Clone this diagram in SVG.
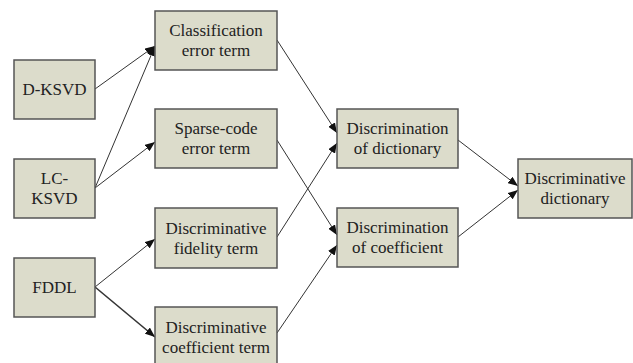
<svg xmlns="http://www.w3.org/2000/svg" width="633" height="363" viewBox="0 0 633 363">
<style>
.box{fill:#dcdccb;stroke:#555;stroke-width:1.5}
.t{font-family:"Liberation Serif","Times New Roman",serif;font-size:17px;fill:#222;text-anchor:middle}
.c{stroke:#333;stroke-width:1;fill:none;marker-end:url(#a)}
</style>
<defs>
<marker id="a" viewBox="0 0 10 8" refX="10" refY="4" markerWidth="10" markerHeight="8" markerUnits="userSpaceOnUse" orient="auto">
<path d="M0,0 L10,4 L0,8 Z" fill="#111"/>
</marker>
</defs>
<rect width="633" height="363" fill="#fff"/>
<g id="connectors">
<line class="c" x1="95" y1="89" x2="155" y2="46"/>
<line class="c" x1="95" y1="188" x2="155" y2="46"/>
<line class="c" x1="95" y1="188" x2="155" y2="142"/>
<line class="c" x1="95" y1="287" x2="155" y2="239"/>
<line class="c" x1="95" y1="287" x2="155" y2="337" style="stroke-width:1.6"/>
<line class="c" x1="277" y1="40" x2="337" y2="133"/>
<line class="c" x1="277" y1="140" x2="337" y2="235"/>
<line class="c" x1="277" y1="237" x2="337" y2="143"/>
<line class="c" x1="277" y1="333" x2="337" y2="245"/>
<line class="c" x1="458" y1="140" x2="518" y2="186"/>
<line class="c" x1="458" y1="237" x2="518" y2="190"/>
</g>
<g id="dksvd"><rect class="box" x="14" y="60" width="81" height="59"/><text class="t" x="54.5" y="95">D-KSVD</text></g>
<g id="lcksvd"><rect class="box" x="14" y="159" width="81" height="59"/><text class="t" x="54.5" y="184">LC-</text><text class="t" x="54.5" y="204">KSVD</text></g>
<g id="fddl"><rect class="box" x="14" y="258" width="81" height="59"/><text class="t" x="54.5" y="293">FDDL</text></g>
<g id="classification"><rect class="box" x="155" y="11" width="122" height="59"/><text class="t" x="216" y="36">Classification</text><text class="t" x="216" y="56">error term</text></g>
<g id="sparse"><rect class="box" x="155" y="109" width="122" height="59"/><text class="t" x="216" y="134">Sparse-code</text><text class="t" x="216" y="154">error term</text></g>
<g id="fidelity"><rect class="box" x="155" y="208" width="122" height="60"/><text class="t" x="216" y="234">Discriminative</text><text class="t" x="216" y="254">fidelity term</text></g>
<g id="coefterm"><rect class="box" x="155" y="307" width="122" height="60"/><text class="t" x="216" y="333">Discriminative</text><text class="t" x="216" y="353">coefficient term</text></g>
<g id="discdict"><rect class="box" x="337" y="109" width="121" height="59"/><text class="t" x="397.5" y="134">Discrimination</text><text class="t" x="397.5" y="154">of dictionary</text></g>
<g id="disccoef"><rect class="box" x="337" y="208" width="121" height="59"/><text class="t" x="397.5" y="233">Discrimination</text><text class="t" x="397.5" y="253">of coefficient</text></g>
<g id="result"><rect class="box" x="518" y="159" width="114" height="59"/><text class="t" x="575" y="184">Discriminative</text><text class="t" x="575" y="204">dictionary</text></g>
</svg>
